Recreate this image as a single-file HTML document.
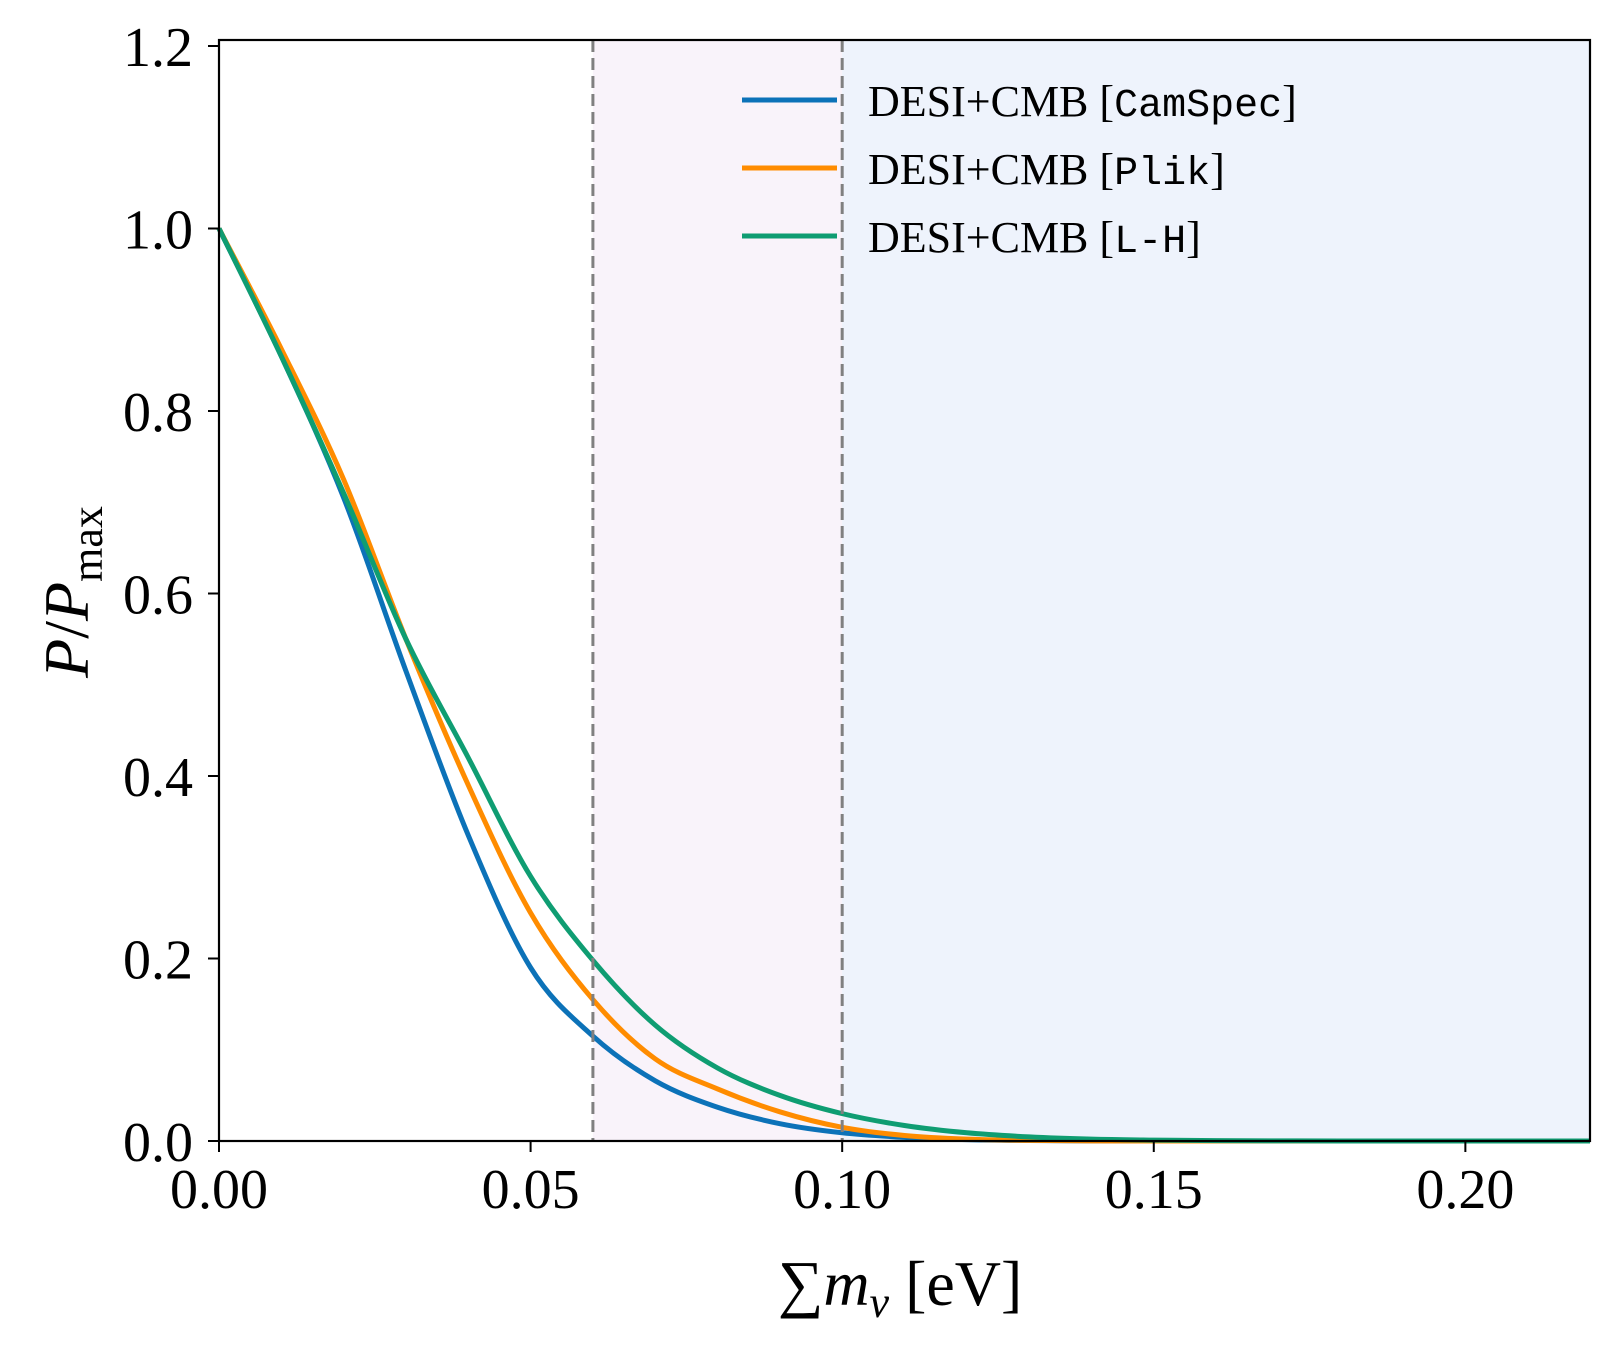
<!DOCTYPE html>
<html><head><meta charset="utf-8"><style>
html,body{margin:0;padding:0;background:#fff;}
svg text{font-family:"Liberation Serif",serif;}
</style></head><body>
<svg id="chart" width="1616" height="1350" xmlns="http://www.w3.org/2000/svg">
<g id="bg"></g><g id="series"></g><g id="axes"></g>
</svg>
<script>
const xs = [0,0.01,0.02,0.03,0.04,0.05,0.06,0.07,0.08,0.09,0.10,0.11,0.12,0.13,0.14,0.15,0.16,0.18,0.20,0.22];
const camspec = [1,0.86,0.705,0.515,0.335,0.19,0.115,0.066,0.037,0.019,0.009,0.004,0.0015,0.0005,0.0002,0,0,0,0,0];
const plik = [1,0.868,0.725,0.55,0.39,0.25,0.155,0.09,0.057,0.032,0.015,0.006,0.002,0.0007,0.0002,0,0,0,0,0];
const lh = [1,0.86,0.71,0.55,0.42,0.29,0.198,0.127,0.08,0.05,0.03,0.017,0.009,0.0045,0.002,0.001,0.0004,0,0,0];
const xTicks = [0,0.05,0.10,0.15,0.20];
const xTickLabels = ["0.00","0.05","0.10","0.15","0.20"];
const yTicks = [0,0.2,0.4,0.6,0.8,1.0,1.2];
const yTickLabels = ["0.0","0.2","0.4","0.6","0.8","1.0","1.2"];
const regions = [0.06,0.10];
const seriesNames = ["CamSpec","Plik","L-H"];
const seriesColors = ["#0c72b8","#ff8c00","#0f9d72"];

const L=219,R=1590,T=40,B=1141;
const X=v=>L+v/0.22*(R-L);
const Y=v=>B-v*912.5;
const NS="http://www.w3.org/2000/svg";
function mk(parent,tag,attrs){const e=document.createElementNS(NS,tag);for(const k in attrs)e.setAttribute(k,attrs[k]);document.getElementById(parent).appendChild(e);return e;}

let e;
e=mk('bg','rect',{x:X(regions[0]),y:T,width:X(regions[1])-X(regions[0]),height:B-T,fill:'#f9f3fa'});


e=mk('bg','rect',{x:X(regions[1]),y:T,width:R-X(regions[1]),height:B-T,fill:'#eef3fc'});



function pathFor(ys){
 const p=xs.map((x,i)=>[X(x),Y(ys[i])]);
 let d='M'+p[0][0]+','+p[0][1];
 for(let i=0;i<p.length-1;i++){
  const p0=p[Math.max(0,i-1)],p1=p[i],p2=p[i+1],p3=p[Math.min(p.length-1,i+2)];
  const c1x=p1[0]+(p2[0]-p0[0])/6,c1y=p1[1]+(p2[1]-p0[1])/6;
  const c2x=p2[0]-(p3[0]-p1[0])/6,c2y=p2[1]-(p3[1]-p1[1])/6;
  d+=` C${c1x},${c1y} ${c2x},${c2y} ${p2[0]},${p2[1]}`;
 }
 return d;
}
[camspec,plik,lh].forEach((ys,i)=>{
 e=mk('series','path',{d:pathFor(ys),fill:'none',stroke:seriesColors[i],'stroke-width':5,'stroke-linejoin':'round'});
 
 
});
regions.forEach(r=>{
 e=mk('series','line',{x1:X(r),x2:X(r),y1:T,y2:B,stroke:'#808080','stroke-width':3,'stroke-dasharray':'12,6'});
 
 
});

e=mk('axes','rect',{x:L,y:T,width:R-L,height:B-T,fill:'none',stroke:'#000','stroke-width':2.2});


xTicks.forEach((v,i)=>{
 e=mk('axes','line',{x1:X(v),x2:X(v),y1:B,y2:B+11,stroke:'#000','stroke-width':2});
 
 
 e=mk('axes','text',{x:X(v),y:B+67,'font-size':56,'text-anchor':'middle'});
 e.textContent=xTickLabels[i];
 
 
});
yTicks.forEach((v,i)=>{
 e=mk('axes','line',{x1:L-11,x2:L,y1:Y(v),y2:Y(v),stroke:'#000','stroke-width':2});
 
 
 e=mk('axes','text',{x:L-26,y:Y(v)+20,'font-size':56,'text-anchor':'end'});
 e.textContent=yTickLabels[i];
 
 
});
seriesNames.forEach((n,i)=>{
 const y=100+i*68;
 e=mk('axes','line',{x1:742,x2:837,y1:y,y2:y,stroke:seriesColors[i],'stroke-width':5});
 
 
 e=mk('axes','text',{x:868,y:y+16,'font-size':44});
 e.innerHTML='DESI+CMB [<tspan font-family="Liberation Mono, monospace" font-size="40">'+n+'</tspan>]';
 
 
});
e=mk('axes','text',{x:0,y:0,'font-size':64,'text-anchor':'middle',transform:'translate(88,592) rotate(-90)'});
e.innerHTML='<tspan font-style="italic">P</tspan>/<tspan font-style="italic">P</tspan><tspan font-size="44" dy="14">max</tspan>';


e=mk('axes','text',{x:900,y:1305,'font-size':64,'text-anchor':'middle'});
e.innerHTML='∑<tspan font-style="italic">m</tspan><tspan font-style="italic" font-size="44" dy="12">ν</tspan><tspan dy="-12"> [eV]</tspan>';


</script>
</body></html>
